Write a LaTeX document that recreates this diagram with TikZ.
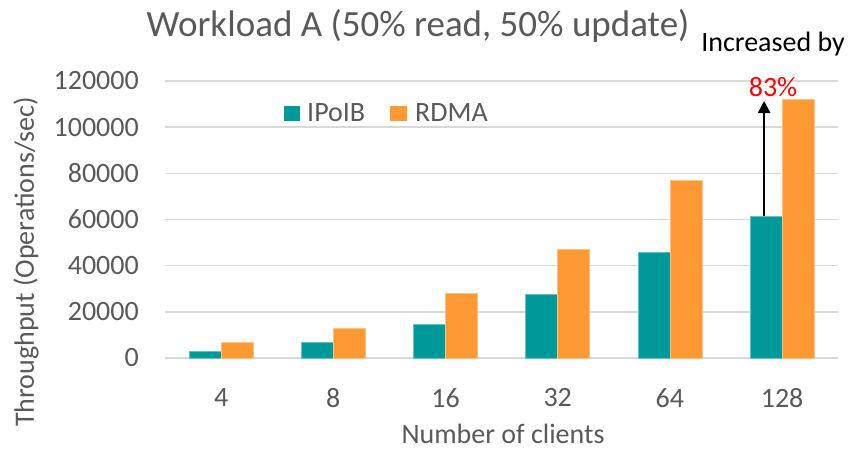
\documentclass[tikz,border=0pt]{standalone}
\usepackage{fontspec}
\setmainfont{Carlito}
\usetikzlibrary{arrows.meta}
\definecolor{ibteal}{RGB}{0,153,153}
\definecolor{rdmaorange}{RGB}{255,153,51}
\definecolor{txtgray}{RGB}{89,89,89}
\definecolor{gridgray}{RGB}{217,217,217}
\begin{document}
\begin{tikzpicture}[x=1pt,y=-1pt,
    lbl/.style={text=txtgray,font=\fontsize{28}{30}\selectfont,inner sep=0pt},
    ipoib/.style={fill=ibteal,draw=ibteal!60!white,line width=0.6pt},
    rdma/.style={fill=rdmaorange,draw=rdmaorange!60!white,line width=0.6pt}]
  \useasboundingbox (0,0) rectangle (851,451);
  % values in thousands
  \def\ypos#1{358-#1*2.3083}
  % grid and tick labels
  \foreach \v/\t in {0/0,20/20000,40/40000,60/60000,80/80000,100/100000,120/120000} {
    \draw[gridgray,line width=1.5pt] (165,{\ypos{\v}}) -- (838,{\ypos{\v}});
    \node[lbl,anchor=east] (tick\v) at (139,{\ypos{\v}}) {\t};
  }
  % bars
  \foreach \n/\c/\a/\b in {0/4/3.0/6.8, 1/8/6.8/13.0, 2/16/14.8/28.0,
                           3/32/27.5/47.0, 4/64/45.8/77.0, 5/128/61.4/112.0} {
    \pgfmathsetmacro\xc{221.1+\n*112.2}
    \draw[ipoib] (\xc-32,358) rectangle (\xc,{\ypos{\a}});
    \draw[rdma] (\xc,358) rectangle (\xc+32,{\ypos{\b}});
    \coordinate (top\c) at (\xc-18,{\ypos{\a}});
    \node[lbl] (cat\c) at (\xc,398) {\c};
  }
  % titles
  \node[lbl,font=\fontsize{37}{40}\selectfont] (title) at (418,26) {Workload A (50\% read, 50\% update)};
  \node[lbl,rotate=90] (ylabel) at (26,262) {Throughput (Operations/sec)};
  \node[lbl] (xlabel) at (503,434) {Number of clients};
  % legend
  \fill[ibteal] (284,106) rectangle (300,121);
  \node[lbl,anchor=west] (legip) at (307,113) {IPoIB};
  \fill[rdmaorange] (390,106) rectangle (407,121);
  \node[lbl,anchor=west] (legrdma) at (415,113) {RDMA};
  % annotation
  \node[lbl,text=black] (incr) at (773,44) {Increased by};
  \node[lbl,text=red] (pct) at (773,87) {83\%};
  \coordinate (tip) at (top128 |- 0,101);
  \draw[line width=2.5pt,-{Triangle[width=12pt,length=12pt]}] (top128) -- (tip);
\end{tikzpicture}
\end{document}
